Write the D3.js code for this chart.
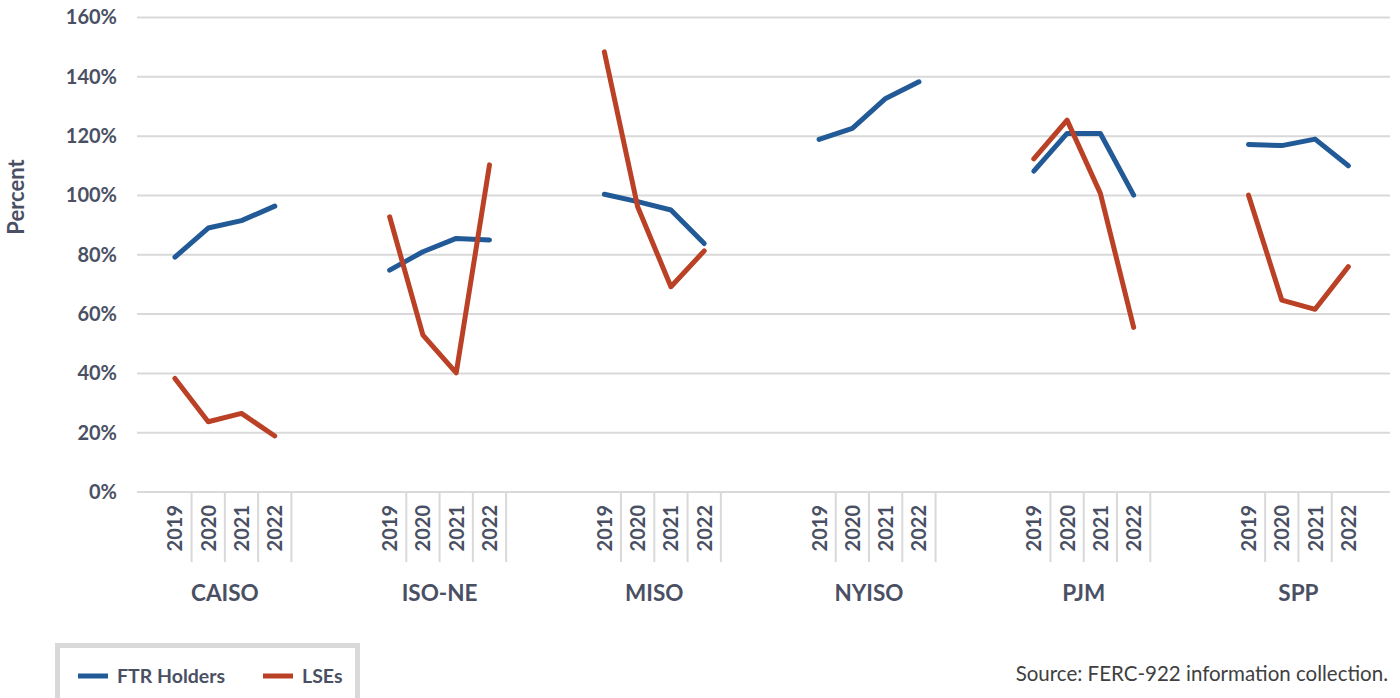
<!DOCTYPE html>
<html>
<head>
<meta charset="utf-8">
<script src="https://cdn.jsdelivr.net/npm/d3@7"></script>
<style>
  html, body { margin: 0; padding: 0; background: #fff; }
  svg { display: block; font-family: Lato, "Noto Sans", sans-serif; }
</style>
</head>
<body>
<svg id="chart" width="1400" height="698"></svg>
<script>
// Market regions and study years
const regions = ["CAISO", "ISO-NE", "MISO", "NYISO", "PJM", "SPP"];
const years = ["2019", "2020", "2021", "2022"];

// FTR holders' share (%), one row per region, years 2019–2022
const ftrHolders = [
  [79.2, 89.0, 91.5, 96.4],
  [74.8, 81.0, 85.5, 85.0],
  [100.4, 97.9, 95.1, 83.8],
  [118.9, 122.6, 132.7, 138.3],
  [108.2, 120.9, 120.9, 100.1],
  [117.2, 116.8, 119.0, 110.0]
];

// LSEs' share (%); NYISO has no LSE figures
const lses = [
  [38.3, 23.7, 26.5, 18.9],
  [92.8, 52.9, 40.2, 110.3],
  [148.4, 96.2, 69.2, 81.3],
  [null, null, null, null],
  [112.3, 125.4, 100.7, 55.5],
  [100.1, 64.7, 61.6, 76.0]
];

const yTicks = [0, 20, 40, 60, 80, 100, 120, 140, 160];

const series = [
  { name: "FTR Holders", values: ftrHolders, color: "#215a97" },
  { name: "LSEs", values: lses, color: "#bb4126" }
];

const textColor = "#4a5064";
const gridColor = "#d9d9d9";

const svg = d3.select("#chart");

const plotLeft = 137, plotRight = 1390;
const y = d3.scaleLinear().domain([0, 160]).range([492, 17.5]);

// Region bands, each split into four year slots
const xGroup = d3.scaleBand()
  .domain(regions)
  .range([158.3, 1365])
  .paddingInner(0.38)
  .paddingOuter(0);
const xYear = d3.scaleBand()
  .domain(years)
  .range([0, xGroup.bandwidth()])
  .padding(0);
const xPos = (region, year) => xGroup(region) + xYear(year) + xYear.bandwidth() / 2;

// Horizontal gridlines
svg.append("g")
  .selectAll("line")
  .data(yTicks)
  .join("line")
  .attr("x1", plotLeft)
  .attr("x2", plotRight)
  .attr("y1", d => y(d))
  .attr("y2", d => y(d))
  .attr("stroke", gridColor)
  .attr("stroke-width", 2);

// Y axis labels
const yAxis = d3.axisLeft(y)
  .tickValues(yTicks)
  .tickFormat(d => d + "%")
  .tickSize(0)
  .tickPadding(0);
svg.append("g")
  .attr("transform", "translate(117,0)")
  .call(yAxis)
  .call(g => g.select(".domain").remove())
  .call(g => g.selectAll("text")
    .attr("fill", textColor)
    .attr("font-size", 20)
    .attr("font-weight", 700)
    .attr("font-family", "Lato, sans-serif"));

svg.append("text")
  .attr("transform", "translate(24,197) rotate(-90)")
  .attr("text-anchor", "middle")
  .attr("fill", textColor)
  .attr("font-size", 22)
  .attr("font-weight", 700)
  .text("Percent");

// Category axis: year labels, slot dividers, region names
const axisG = svg.append("g");
regions.forEach((region, ri) => {
  const g = axisG.append("g");
  years.forEach((yr, yi) => {
    const cx = xPos(region, yr);
    g.append("text")
      .attr("transform", `translate(${cx + 7.5},505) rotate(-90)`)
      .attr("text-anchor", "end")
      .attr("fill", textColor)
      .attr("font-size", 20)
      .attr("font-weight", 700)
      .text(yr);
    const last = ri === regions.length - 1 && yi === years.length - 1;
    if (!last) {
      const xr = xGroup(region) + xYear(yr) + xYear.bandwidth();
      g.append("line")
        .attr("x1", xr).attr("x2", xr)
        .attr("y1", 493).attr("y2", 562)
        .attr("stroke", gridColor)
        .attr("stroke-width", 2);
    }
  });
  g.append("text")
    .attr("x", xGroup(region) + xGroup.bandwidth() / 2)
    .attr("y", 601)
    .attr("text-anchor", "middle")
    .attr("fill", textColor)
    .attr("font-size", 22.5)
    .attr("font-weight", 700)
    .text(region);
});

// Lines, drawn separately for each region
const line = d3.line()
  .defined(d => d.v != null)
  .x(d => xPos(d.region, d.year))
  .y(d => y(d.v));

series.forEach(s => {
  const g = svg.append("g");
  regions.forEach((region, ri) => {
    const pts = years.map((yr, yi) => ({ region, year: yr, v: s.values[ri][yi] }));
    g.append("path")
      .datum(pts)
      .attr("d", line)
      .attr("fill", "none")
      .attr("stroke", s.color)
      .attr("stroke-width", 5)
      .attr("stroke-linecap", "round")
      .attr("stroke-linejoin", "round");
  });
});

// Legend
const legend = svg.append("g");
legend.append("rect")
  .attr("x", 57.5).attr("y", 645.5)
  .attr("width", 300).attr("height", 70)
  .attr("fill", "#fff")
  .attr("stroke", gridColor)
  .attr("stroke-width", 5);
const legendX = [78, 263];
series.forEach((s, i) => {
  legend.append("line")
    .attr("x1", legendX[i]).attr("x2", legendX[i] + 30)
    .attr("y1", 676).attr("y2", 676)
    .attr("stroke", s.color)
    .attr("stroke-width", 5);
  legend.append("text")
    .attr("x", legendX[i] + 39)
    .attr("y", 682.5)
    .attr("fill", textColor)
    .attr("font-size", 19.5)
    .attr("font-weight", 700)
    .text(s.name);
});

// Source note
svg.append("text")
  .attr("x", 1388)
  .attr("y", 681)
  .attr("text-anchor", "end")
  .attr("fill", "#404040")
  .attr("font-size", 20.5)
  .text("Source: FERC-922 information collection.");
</script>
</body>
</html>
